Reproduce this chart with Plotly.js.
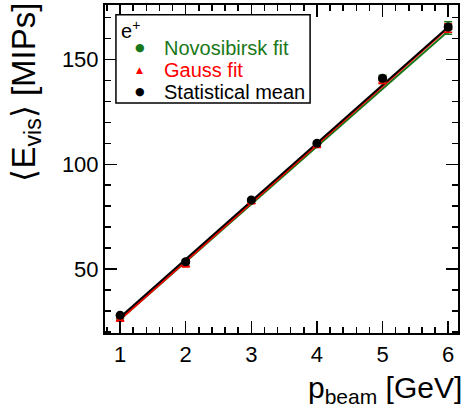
<!DOCTYPE html>
<html>
<head>
<meta charset="utf-8">
<script src="https://cdn.plot.ly/plotly-3.0.1.min.js"></script>
<style>html,body{margin:0;padding:0;background:#fff;}#chart{width:465px;height:410px;}</style>
</head>
<body>
<div id="chart"></div>
<script>
// Data
const beamMomentum = [1, 2, 3, 4, 5, 6];
const novosibirskMean = [26.5, 53, 82.5, 109.5, 140.5, 165];
const novosibirskErr = [1.0, 1.5, 1.0, 1.2, 2.0, 3.0];
const gaussMean = [26, 52, 82, 109, 140, 165];
const gaussErr = [0.8, 1.0, 0.8, 1.0, 1.5, 2.0];
const statMean = [28, 53.5, 83, 110, 141, 165.5];
const statErr = [0.5, 0.6, 0.6, 0.7, 0.8, 1.0];

// Linear fit lines (endpoints at p = 1 and p = 6)
const fitX = [1, 6];
const fitNovosibirsk = [26, 163.5];
const fitGauss = [26, 165];
const fitStat = [27, 165.5];

const legendLabels = ['Novosibirsk fit', 'Gauss fit', 'Statistical mean'];
const legendSymbols = ['\u25CF', '\u25B2', '\u25CF'];
const legendTitle = 'e<sup>+</sup>';
const xTitle = 'p<sub>beam</sub> [GeV]';
const yTitle = '\u27E8E<sub>vis</sub>\u27E9 [MIPs]';

const GREEN = 'rgb(25,120,25)';
const RED = 'rgb(255,0,0)';
const BLACK = 'rgb(0,0,0)';
const legendColors = [GREEN, RED, BLACK];
const FONT = 'Liberation Sans, Arial, sans-serif';

const traces = [
  {x: fitX, y: fitNovosibirsk, mode: 'lines', line: {color: GREEN, width: 2}, hoverinfo: 'skip'},
  {x: fitX, y: fitGauss, mode: 'lines', line: {color: RED, width: 2}, hoverinfo: 'skip'},
  {x: fitX, y: fitStat, mode: 'lines', line: {color: BLACK, width: 2}, hoverinfo: 'skip'},
  {x: beamMomentum, y: novosibirskMean, mode: 'markers',
   marker: {symbol: 'circle', size: 8, color: GREEN},
   error_y: {type: 'data', array: novosibirskErr, color: GREEN, thickness: 1.5, width: 4}},
  {x: beamMomentum, y: gaussMean, mode: 'markers',
   marker: {symbol: 'triangle-up', size: 8, color: RED},
   error_y: {type: 'data', array: gaussErr, color: RED, thickness: 1.5, width: 4}},
  {x: beamMomentum, y: statMean, mode: 'markers',
   marker: {symbol: 'circle', size: 9, color: BLACK},
   error_y: {type: 'data', array: statErr, color: BLACK, thickness: 1.5, width: 4}}
];

const axisCommon = {
  showline: true, linecolor: BLACK, linewidth: 2, mirror: 'allticks',
  ticks: 'inside', ticklen: 12, tickwidth: 1.5, tickcolor: BLACK,
  showgrid: false, zeroline: false,
  tickfont: {family: FONT, size: 22, color: BLACK}
};

// custom ROOT-style legend box
const legendBox = {x0: 0.031, x1: 0.581, y0: 0.701, y1: 0.970};
const rowY = [0.869, 0.802, 0.735];
const annotations = [
  {text: xTitle, xref: 'paper', yref: 'paper', x: 1, y: 0, xanchor: 'right', yanchor: 'bottom',
   xshift: 6, yshift: -77, showarrow: false, font: {family: FONT, size: 30, color: BLACK}},
  {text: yTitle, xref: 'paper', yref: 'paper', x: 0, y: 1, xanchor: 'center', yanchor: 'top',
   xshift: -80, yshift: 4, textangle: -90, showarrow: false, font: {family: FONT, size: 33, color: BLACK}},
  {text: legendTitle, xref: 'paper', yref: 'paper', x: 0.040, y: 0.924, xanchor: 'left', yanchor: 'middle',
   showarrow: false, font: {family: FONT, size: 20, color: BLACK}}
];
legendLabels.forEach(function (lab, i) {
  annotations.push({text: legendSymbols[i], xref: 'paper', yref: 'paper', x: 0.099, y: rowY[i],
    xanchor: 'center', yanchor: 'middle', showarrow: false,
    font: {family: 'DejaVu Sans', size: i === 1 ? 9 : 11, color: legendColors[i]}});
  annotations.push({text: lab, xref: 'paper', yref: 'paper', x: 0.162, y: rowY[i],
    xanchor: 'left', yanchor: 'middle', showarrow: false,
    font: {family: FONT, size: 20, color: legendColors[i]}});
});

const layout = {
  width: 465, height: 410,
  margin: {l: 105, r: 7, t: 5, b: 77},
  paper_bgcolor: '#fff', plot_bgcolor: '#fff',
  font: {family: FONT, color: BLACK},
  showlegend: false,
  xaxis: Object.assign({}, axisCommon, {
    range: [0.77, 6.15], tickvals: [1, 2, 3, 4, 5, 6], ticklabelstandoff: 1,
    minor: {dtick: 0.2, ticks: 'inside', ticklen: 6, tickwidth: 1.5, tickcolor: BLACK, tick0: 0}
  }),
  yaxis: Object.assign({}, axisCommon, {
    range: [19.5, 176], tickvals: [50, 100, 150],
    minor: {dtick: 10, ticks: 'inside', ticklen: 6, tickwidth: 1.5, tickcolor: BLACK, tick0: 0}
  }),
  shapes: [
    {type: 'rect', xref: 'paper', yref: 'paper', x0: legendBox.x0, x1: legendBox.x1,
     y0: legendBox.y0, y1: legendBox.y1, line: {color: BLACK, width: 1.5}, fillcolor: '#fff', layer: 'above'}
  ],
  annotations: annotations
};

Plotly.newPlot('chart', traces, layout, {staticPlot: true, displayModeBar: false});
</script>
</body>
</html>
